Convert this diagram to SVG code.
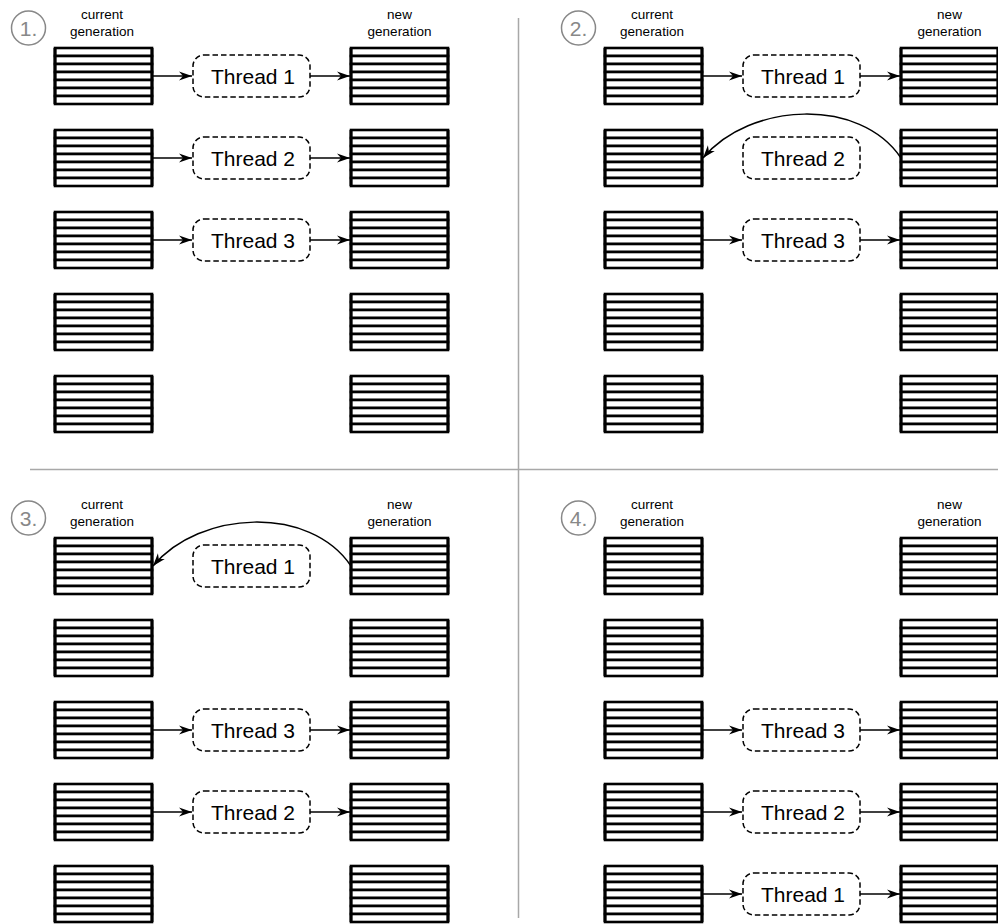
<svg xmlns="http://www.w3.org/2000/svg" xmlns:xlink="http://www.w3.org/1999/xlink" width="998" height="924" viewBox="0 0 998 924">
<style>
.lbl{font-family:"Liberation Sans",Arial,sans-serif;font-size:13.5px;fill:#000;text-anchor:middle}
.num{font-family:"Liberation Sans",Arial,sans-serif;font-size:21px;fill:#888;text-anchor:middle}
.ring{fill:#fff;stroke:#888;stroke-width:1.5}
.thr{fill:#fff;stroke:#000;stroke-width:1.5;stroke-dasharray:5.5 3}
.tt{font-family:"Liberation Sans",Arial,sans-serif;font-size:21px;fill:#000;text-anchor:middle}
.sep{stroke:#a8a8a8;stroke-width:1.5;fill:none}
.con{stroke:#000;stroke-width:1.5;fill:none;marker-end:url(#ah)}
.row{fill:#fff;stroke:#000;stroke-width:2.6}
</style>
<defs>
<marker id="ah" markerUnits="userSpaceOnUse" markerWidth="15" markerHeight="10" refX="13" refY="5" orient="auto" viewBox="0 0 15 10">
<path d="M0,0.5 L13,5 L0,9.5 L4,5 z" fill="#000"/>
</marker>
<g id="stack">
<rect class="row" x="0" y="0" width="97" height="8"/>
<rect class="row" x="0" y="8" width="97" height="8"/>
<rect class="row" x="0" y="16" width="97" height="8"/>
<rect class="row" x="0" y="24" width="97" height="8"/>
<rect class="row" x="0" y="32" width="97" height="8"/>
<rect class="row" x="0" y="40" width="97" height="8"/>
<rect class="row" x="0" y="48" width="97" height="8"/>
<line x1="0" y1="0" x2="0" y2="56" stroke="#000" stroke-width="3"/>
<line x1="97" y1="0" x2="97" y2="56" stroke="#000" stroke-width="3"/>
</g>
</defs>
<rect width="998" height="924" fill="#fff"/>
<g id="separators">
<line class="sep" x1="30" y1="469.5" x2="998" y2="469.5"/>
<line class="sep" x1="518.5" y1="18" x2="518.5" y2="918"/>
</g>
<g id="labels">
<circle class="ring" cx="28.5" cy="28" r="17"/><text class="num" x="28.5" y="35.5">1.</text>
<text class="lbl" x="102" y="18.5">current</text><text class="lbl" x="102" y="35.5">generation</text>
<text class="lbl" x="399.5" y="18.5">new</text><text class="lbl" x="399.5" y="35.5">generation</text>
<circle class="ring" cx="578.5" cy="28" r="17"/><text class="num" x="578.5" y="35.5">2.</text>
<text class="lbl" x="652" y="18.5">current</text><text class="lbl" x="652" y="35.5">generation</text>
<text class="lbl" x="949.5" y="18.5">new</text><text class="lbl" x="949.5" y="35.5">generation</text>
<circle class="ring" cx="28.5" cy="518" r="17"/><text class="num" x="28.5" y="525.5">3.</text>
<text class="lbl" x="102" y="508.5">current</text><text class="lbl" x="102" y="525.5">generation</text>
<text class="lbl" x="399.5" y="508.5">new</text><text class="lbl" x="399.5" y="525.5">generation</text>
<circle class="ring" cx="578.5" cy="518" r="17"/><text class="num" x="578.5" y="525.5">4.</text>
<text class="lbl" x="652" y="508.5">current</text><text class="lbl" x="652" y="525.5">generation</text>
<text class="lbl" x="949.5" y="508.5">new</text><text class="lbl" x="949.5" y="525.5">generation</text>
</g>
<g id="p1-cur"><use href="#stack" x="55" y="48"/><use href="#stack" x="55" y="130"/><use href="#stack" x="55" y="212"/><use href="#stack" x="55" y="294"/><use href="#stack" x="55" y="376"/></g>
<g id="p1-new"><use href="#stack" x="351" y="48"/><use href="#stack" x="351" y="130"/><use href="#stack" x="351" y="212"/><use href="#stack" x="351" y="294"/><use href="#stack" x="351" y="376"/></g>
<g id="p2-cur"><use href="#stack" x="605" y="48"/><use href="#stack" x="605" y="130"/><use href="#stack" x="605" y="212"/><use href="#stack" x="605" y="294"/><use href="#stack" x="605" y="376"/></g>
<g id="p2-new"><use href="#stack" x="901" y="48"/><use href="#stack" x="901" y="130"/><use href="#stack" x="901" y="212"/><use href="#stack" x="901" y="294"/><use href="#stack" x="901" y="376"/></g>
<g id="p3-cur"><use href="#stack" x="55" y="538"/><use href="#stack" x="55" y="620"/><use href="#stack" x="55" y="702"/><use href="#stack" x="55" y="784"/><use href="#stack" x="55" y="866"/></g>
<g id="p3-new"><use href="#stack" x="351" y="538"/><use href="#stack" x="351" y="620"/><use href="#stack" x="351" y="702"/><use href="#stack" x="351" y="784"/><use href="#stack" x="351" y="866"/></g>
<g id="p4-cur"><use href="#stack" x="605" y="538"/><use href="#stack" x="605" y="620"/><use href="#stack" x="605" y="702"/><use href="#stack" x="605" y="784"/><use href="#stack" x="605" y="866"/></g>
<g id="p4-new"><use href="#stack" x="901" y="538"/><use href="#stack" x="901" y="620"/><use href="#stack" x="901" y="702"/><use href="#stack" x="901" y="784"/><use href="#stack" x="901" y="866"/></g>
<g id="p1-t1"><rect class="thr" x="193" y="55" width="117" height="42" rx="11"/><text class="tt" x="253" y="83.5">Thread 1</text></g>
<g id="p1-t2"><rect class="thr" x="193" y="137" width="117" height="42" rx="11"/><text class="tt" x="253" y="165.5">Thread 2</text></g>
<g id="p1-t3"><rect class="thr" x="193" y="219" width="117" height="42" rx="11"/><text class="tt" x="253" y="247.5">Thread 3</text></g>
<g id="p2-t1"><rect class="thr" x="743" y="55" width="117" height="42" rx="11"/><text class="tt" x="803" y="83.5">Thread 1</text></g>
<g id="p2-t2"><rect class="thr" x="743" y="137" width="117" height="42" rx="11"/><text class="tt" x="803" y="165.5">Thread 2</text></g>
<g id="p2-t3"><rect class="thr" x="743" y="219" width="117" height="42" rx="11"/><text class="tt" x="803" y="247.5">Thread 3</text></g>
<g id="p3-t1"><rect class="thr" x="193" y="545" width="117" height="42" rx="11"/><text class="tt" x="253" y="573.5">Thread 1</text></g>
<g id="p3-t3"><rect class="thr" x="193" y="709" width="117" height="42" rx="11"/><text class="tt" x="253" y="737.5">Thread 3</text></g>
<g id="p3-t2"><rect class="thr" x="193" y="791" width="117" height="42" rx="11"/><text class="tt" x="253" y="819.5">Thread 2</text></g>
<g id="p4-t3"><rect class="thr" x="743" y="709" width="117" height="42" rx="11"/><text class="tt" x="803" y="737.5">Thread 3</text></g>
<g id="p4-t2"><rect class="thr" x="743" y="791" width="117" height="42" rx="11"/><text class="tt" x="803" y="819.5">Thread 2</text></g>
<g id="p4-t1"><rect class="thr" x="743" y="873" width="117" height="42" rx="11"/><text class="tt" x="803" y="901.5">Thread 1</text></g>
<g id="connectors">
<line class="con" x1="153" y1="76" x2="192" y2="76"/><line class="con" x1="310" y1="76" x2="350" y2="76"/>
<line class="con" x1="153" y1="158" x2="192" y2="158"/><line class="con" x1="310" y1="158" x2="350" y2="158"/>
<line class="con" x1="153" y1="240" x2="192" y2="240"/><line class="con" x1="310" y1="240" x2="350" y2="240"/>
<line class="con" x1="703" y1="76" x2="742" y2="76"/><line class="con" x1="860" y1="76" x2="900" y2="76"/>
<path class="con" d="M901,158 C860,97 750,102 703,158"/>
<line class="con" x1="703" y1="240" x2="742" y2="240"/><line class="con" x1="860" y1="240" x2="900" y2="240"/>
<path class="con" d="M351,566 C310,505 200,510 153,566"/>
<line class="con" x1="153" y1="730" x2="192" y2="730"/><line class="con" x1="310" y1="730" x2="350" y2="730"/>
<line class="con" x1="153" y1="812" x2="192" y2="812"/><line class="con" x1="310" y1="812" x2="350" y2="812"/>
<line class="con" x1="703" y1="730" x2="742" y2="730"/><line class="con" x1="860" y1="730" x2="900" y2="730"/>
<line class="con" x1="703" y1="812" x2="742" y2="812"/><line class="con" x1="860" y1="812" x2="900" y2="812"/>
<line class="con" x1="703" y1="894" x2="742" y2="894"/><line class="con" x1="860" y1="894" x2="900" y2="894"/>
</g>
</svg>
